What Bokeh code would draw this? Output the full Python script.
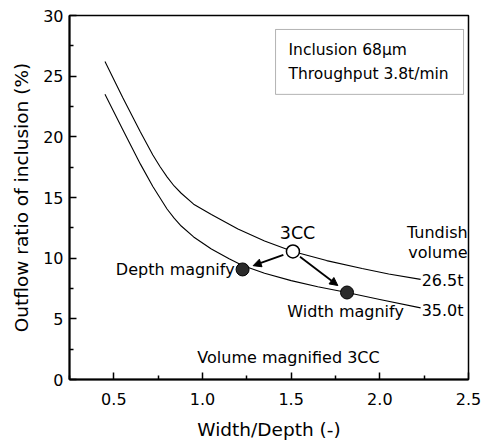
from bokeh.plotting import figure
from bokeh.models import Label, Arrow, NormalHead, BoxAnnotation, FixedTicker, Range1d
from bokeh.embed import file_html
from bokeh.resources import INLINE

# ---- data ----
x_upper = [0.45, 0.55, 0.65, 0.72, 0.76, 0.80, 0.84, 0.88, 0.95, 1.05, 1.20, 1.35, 1.51, 1.70, 1.90, 2.05, 2.23]
y_upper = [26.2, 23.25, 20.4, 18.5, 17.55, 16.7, 15.95, 15.35, 14.45, 13.6, 12.4, 11.42, 10.55, 9.8, 9.15, 8.7, 8.25]
x_lower = [0.45, 0.55, 0.65, 0.72, 0.76, 0.80, 0.84, 0.88, 0.95, 1.05, 1.15, 1.226, 1.35, 1.50, 1.65, 1.815, 2.00, 2.23]
y_lower = [23.5, 20.6, 17.75, 15.9, 14.98, 14.05, 13.3, 12.65, 11.75, 10.75, 9.95, 9.4, 8.75, 8.15, 7.65, 7.17, 6.6, 5.9]

cc_x = [1.51]
cc_y = [10.55]
mag_x = [1.226, 1.815]
mag_y = [9.07, 7.17]

x_ticks = [0.5, 1.0, 1.5, 2.0, 2.5]
x_minor = [0.25, 0.75, 1.25, 1.75, 2.25]
y_ticks = [0, 5, 10, 15, 20, 25, 30]
y_minor = [2.5, 7.5, 12.5, 17.5, 22.5, 27.5]

FONT = "DejaVu Sans"

p = figure(width=481, height=443, output_backend="svg", toolbar_location=None,
           x_range=Range1d(0.25, 2.5), y_range=Range1d(0, 30),
           min_border_left=69, min_border_right=13, min_border_top=15, min_border_bottom=64)
p.background_fill_color = "white"
p.border_fill_color = "white"
p.outline_line_color = "black"
p.outline_line_width = 1.5
p.xgrid.visible = False
p.ygrid.visible = False

p.xaxis.ticker = FixedTicker(ticks=x_ticks, minor_ticks=x_minor)
p.yaxis.ticker = FixedTicker(ticks=y_ticks, minor_ticks=y_minor)
p.xaxis.major_label_overrides = {v: f"{v:.1f}" for v in x_ticks}
p.yaxis.major_label_overrides = {v: f"{v:d}" for v in y_ticks}

for ax in (p.xaxis[0], p.yaxis[0]):
    ax.axis_line_width = 2
    ax.axis_line_color = "black"
    ax.major_tick_in = 7
    ax.major_tick_out = 0
    ax.minor_tick_in = 4
    ax.minor_tick_out = 0
    ax.major_tick_line_width = 1.5
    ax.minor_tick_line_width = 1.5
    ax.major_label_text_font = FONT
    ax.major_label_text_font_size = "16px"
    ax.major_label_text_color = "black"
    ax.axis_label_text_font = FONT
    ax.axis_label_text_font_size = "18.5px"
    ax.axis_label_text_font_style = "normal"
    ax.axis_label_text_color = "black"

p.xaxis.axis_label = "Width/Depth (-)"
p.yaxis.axis_label = "Outflow ratio of inclusion (%)"
p.xaxis.major_label_standoff = 13
p.xaxis.axis_label_standoff = 11
p.yaxis.major_label_standoff = 6
p.yaxis.axis_label_standoff = 8

# curves
p.line(x_upper, y_upper, line_color="black", line_width=1.1)
p.line(x_lower, y_lower, line_color="black", line_width=1.1)

# arrows from 3CC to magnified points
for tx, ty, t0, t1 in [(mag_x[0], mag_y[0], 0.19, 0.79), (mag_x[1], mag_y[1], 0.13, 0.83)]:
    x0, y0 = cc_x[0], cc_y[0]
    p.add_layout(Arrow(end=NormalHead(size=8, fill_color="black", line_color="black"),
                       x_start=x0 + t0 * (tx - x0), y_start=y0 + t0 * (ty - y0),
                       x_end=x0 + t1 * (tx - x0), y_end=y0 + t1 * (ty - y0),
                       line_width=1.8, line_color="black"))

p.scatter(mag_x, mag_y, size=13, marker="circle", fill_color="#2b2b2b", line_color="black", line_width=1)
p.scatter(cc_x, cc_y, size=13, marker="circle", fill_color="white", line_color="black", line_width=1.5)

# info box
p.add_layout(BoxAnnotation(left=1.412, right=2.472, top=28.85, bottom=23.5,
                           fill_color="white", fill_alpha=1, line_color="black", line_width=1))

def lab(x, y, text, align="left", size="16px"):
    p.add_layout(Label(x=x, y=y, text=text, text_align=align, text_baseline="middle",
                       text_font=FONT, text_font_size=size, text_color="black"))

lab(1.485, 27.12, "Inclusion 68\u03bcm", size="15.5px")
lab(1.485, 25.14, "Throughput 3.8t/min", size="15.5px")
lab(1.536, 12.04, "3CC", align="center", size="17.5px")
lab(1.181, 9.07, "Depth magnify", align="right")
lab(1.807, 5.61, "Width magnify", align="center")
lab(2.495, 12.12, "Tundish", align="right")
lab(2.495, 10.47, "volume", align="right")
lab(2.472, 8.16, "26.5t", align="right")
lab(2.472, 5.69, "35.0t", align="right")
lab(1.485, 1.81, "Volume magnified 3CC", align="center")

open("out.html", "w").write(file_html(p, INLINE))
